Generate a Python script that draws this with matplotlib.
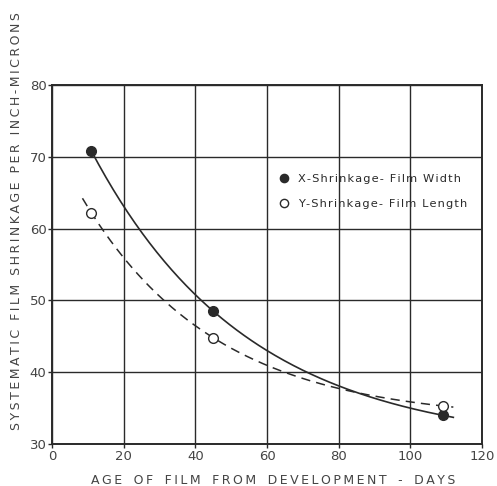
import numpy as np
import matplotlib
matplotlib.use("Agg")
import matplotlib.pyplot as plt
from matplotlib.patches import Rectangle

# measured points (age in days, shrinkage in microns per inch)
days_x = [11, 45, 109]
shrink_x = [70.8, 48.5, 34.0]
days_y = [11, 45, 109]
shrink_y = [62.2, 44.8, 35.3]

label_x = "X-Shrinkage- Film Width"
label_y = "Y-Shrinkage- Film Length"
xlabel = "AGE OF FILM FROM DEVELOPMENT - DAYS"
ylabel = "SYSTEMATIC FILM SHRINKAGE PER INCH-MICRONS"
xticks = [0, 20, 40, 60, 80, 100, 120]
yticks = [30, 40, 50, 60, 70, 80]


def fit_decay(x, y):
    """exact fit of y = a + b*exp(-c*x) through three points"""
    x = np.asarray(x, float)
    y = np.asarray(y, float)
    target = (y[0] - y[1]) / (y[1] - y[2])
    lo, hi = 1e-4, 0.2
    for _ in range(80):
        c = 0.5 * (lo + hi)
        e = np.exp(-c * x)
        r = (e[0] - e[1]) / (e[1] - e[2])
        if r < target:
            lo = c
        else:
            hi = c
    e = np.exp(-c * x)
    b = (y[0] - y[1]) / (e[0] - e[1])
    a = y[2] - b * e[2]
    return lambda t: a + b * np.exp(-c * t)


def spaced(s, sep="\u2009"):
    # drafting-style lettering is widely spaced
    return sep.join(s)


ink = "#2a2a2a"
grey = "#444444"
plt.rcParams['font.family'] = ['DejaVu Sans']

fig = plt.figure(figsize=(4.97, 4.86), dpi=100)
ax = fig.add_axes([52 / 497, 1 - 444 / 486, 430 / 497, 359 / 486])

ax.set_xlim(0, 120)
ax.set_ylim(30, 80)
ax.set_xticks(xticks)
ax.set_yticks(yticks)
ax.grid(True, color=ink, linewidth=1.0, zorder=0)
for s in ax.spines.values():
    s.set_color(ink)
    s.set_linewidth(1.4)
ax.tick_params(direction='out', length=3, width=1, colors=ink, labelsize=9.5, pad=1)
ax.set_xticklabels([str(v) for v in xticks], color=grey)
ax.set_yticklabels([str(v) for v in yticks], color=grey)

# white box behind legend hides the grid lines in that cell
ax.add_patch(Rectangle((62, 60.3), 57.8, 9.4, facecolor='white', edgecolor='none', zorder=1))

fx = fit_decay(days_x, shrink_x)
fy = fit_decay(days_y, shrink_y)
tx = np.linspace(days_x[0], 112, 200)
ty = np.linspace(8.5, 112, 200)
ax.plot(tx, fx(tx), color=ink, linewidth=1.2, zorder=2)
ax.plot(ty, fy(ty), color=ink, linewidth=1.1, dashes=(6, 4), zorder=2)

ax.plot(days_x, shrink_x, 'o', color=ink, markersize=7, zorder=3,
        label=spaced(label_x, "\u200a"))
ax.plot(days_y, shrink_y, 'o', markerfacecolor='white', markeredgecolor=ink,
        markeredgewidth=1.0, markersize=7, zorder=3, label=spaced(label_y, "\u200a"))

leg = ax.legend(loc='upper left', bbox_to_anchor=(0.515, 0.765), frameon=False,
                fontsize=8.2, handletextpad=0.75, handlelength=1.0, labelspacing=1.3,
                borderaxespad=0, markerscale=0.85)
for t in leg.get_texts():
    t.set_color(ink)

fig.text(273 / 497, 1 - 480 / 486, spaced(xlabel).replace("\u2009 \u2009", "\u2009\u2009 \u2009"),
         ha='center', va='center', fontsize=9, color=grey)
fig.text(17 / 497, 1 - 221 / 486, spaced(ylabel),
         ha='center', va='center', rotation=90, fontsize=9, color=grey)

fig.savefig("out.png", dpi=100)
